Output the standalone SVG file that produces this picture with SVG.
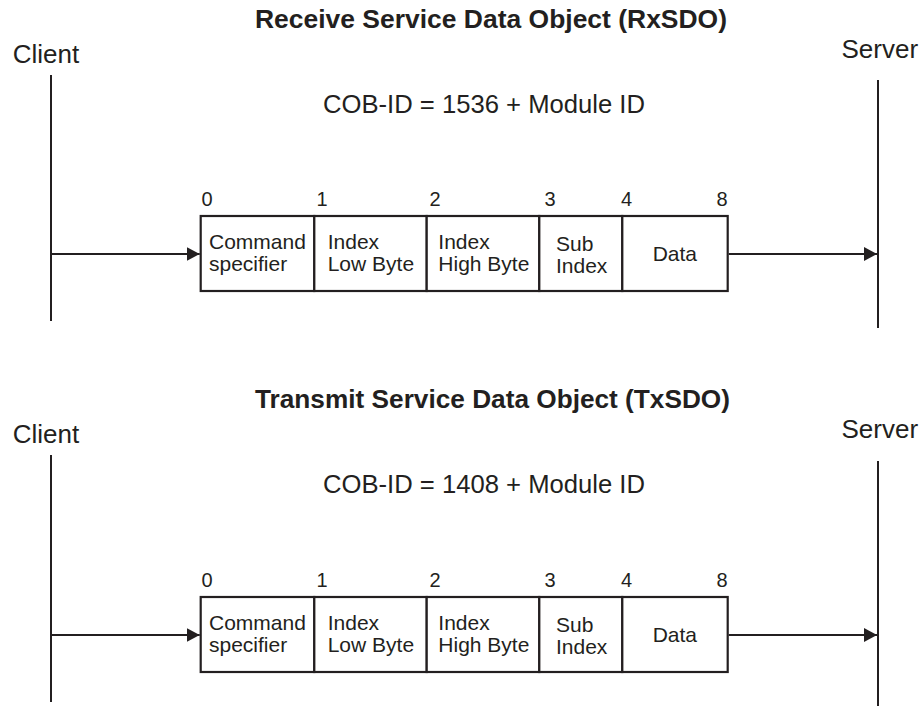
<svg xmlns="http://www.w3.org/2000/svg" width="923" height="706" viewBox="0 0 923 706">
<style>
  text { font-family: "Liberation Sans", Arial, sans-serif; fill: #231f20; }
  .title { font-size: 26.5px; font-weight: bold; }
  .party { font-size: 26px; }
  .cob { font-size: 25.6px; }
  .num { font-size: 20px; }
  .cell text { font-size: 21px; }
  .life { stroke: #231f20; stroke-width: 2; fill: none; }
  .cell rect { fill: #ffffff; stroke: #231f20; stroke-width: 2.2; }
  .conn { stroke: #231f20; stroke-width: 2; fill: none; }
</style>
<defs>
  <marker id="arrow" viewBox="0 0 13 14" refX="13" refY="7" markerWidth="13" markerHeight="14" markerUnits="userSpaceOnUse" orient="auto">
    <path d="M0,0 L13,7 L0,14 Z" fill="#231f20"/>
  </marker>
</defs>
<rect width="923" height="706" fill="#ffffff"/>

<!-- Receive section -->
<text class="title" x="255" y="28.3" textLength="472" lengthAdjust="spacingAndGlyphs">Receive Service Data Object (RxSDO)</text>
<text class="cob" x="323" y="113" textLength="322" lengthAdjust="spacingAndGlyphs">COB-ID = 1536 + Module ID</text>

<g id="rx-client">
  <text class="party" x="12.7" y="63.3">Client</text>
  <line class="life" x1="51" y1="75" x2="51" y2="321"/>
</g>
<g id="rx-server">
  <text class="party" x="841.5" y="58.3">Server</text>
  <line class="life" x1="878" y1="80" x2="878" y2="328"/>
</g>

<g id="rx-offsets">
  <text class="num" x="201.5" y="206">0</text>
  <text class="num" x="316.5" y="206">1</text>
  <text class="num" x="429.5" y="206">2</text>
  <text class="num" x="544.5" y="206">3</text>
  <text class="num" x="621" y="206">4</text>
  <text class="num" x="716.5" y="206">8</text>
</g>

<g id="rx-command" class="cell">
  <rect x="200.7" y="216" width="113.6" height="75"/>
  <text x="209" y="249">Command</text>
  <text x="209" y="271">specifier</text>
</g>
<g id="rx-index-low" class="cell">
  <rect x="314.3" y="216" width="112.4" height="75"/>
  <text x="327.7" y="249">Index</text>
  <text x="327.7" y="271">Low Byte</text>
</g>
<g id="rx-index-high" class="cell">
  <rect x="426.7" y="216" width="112.6" height="75"/>
  <text x="438.3" y="249">Index</text>
  <text x="438.3" y="271">High Byte</text>
</g>
<g id="rx-subindex" class="cell">
  <rect x="539.3" y="216" width="83" height="75"/>
  <text x="556" y="250.7">Sub</text>
  <text x="556" y="273.3">Index</text>
</g>
<g id="rx-data" class="cell">
  <rect x="622.3" y="216" width="105.4" height="75"/>
  <text x="652.7" y="261">Data</text>
</g>

<!-- Transmit section -->
<text class="title" x="255" y="408.3" textLength="475" lengthAdjust="spacingAndGlyphs">Transmit Service Data Object (TxSDO)</text>
<text class="cob" x="323" y="493" textLength="322" lengthAdjust="spacingAndGlyphs">COB-ID = 1408 + Module ID</text>

<g id="tx-client">
  <text class="party" x="12.7" y="443.3">Client</text>
  <line class="life" x1="51" y1="455" x2="51" y2="702"/>
</g>
<g id="tx-server">
  <text class="party" x="841.5" y="438.3">Server</text>
  <line class="life" x1="878" y1="461" x2="878" y2="706"/>
</g>

<g id="tx-offsets">
  <text class="num" x="201.5" y="587">0</text>
  <text class="num" x="316.5" y="587">1</text>
  <text class="num" x="429.5" y="587">2</text>
  <text class="num" x="544.5" y="587">3</text>
  <text class="num" x="621" y="587">4</text>
  <text class="num" x="716.5" y="587">8</text>
</g>

<g id="tx-command" class="cell">
  <rect x="200.7" y="597" width="113.6" height="75"/>
  <text x="209" y="630">Command</text>
  <text x="209" y="652">specifier</text>
</g>
<g id="tx-index-low" class="cell">
  <rect x="314.3" y="597" width="112.4" height="75"/>
  <text x="327.7" y="630">Index</text>
  <text x="327.7" y="652">Low Byte</text>
</g>
<g id="tx-index-high" class="cell">
  <rect x="426.7" y="597" width="112.6" height="75"/>
  <text x="438.3" y="630">Index</text>
  <text x="438.3" y="652">High Byte</text>
</g>
<g id="tx-subindex" class="cell">
  <rect x="539.3" y="597" width="83" height="75"/>
  <text x="556" y="631.7">Sub</text>
  <text x="556" y="654.3">Index</text>
</g>
<g id="tx-data" class="cell">
  <rect x="622.3" y="597" width="105.4" height="75"/>
  <text x="652.7" y="642">Data</text>
</g>

<g id="connectors">
  <line class="conn" x1="51" y1="254" x2="199.7" y2="254" marker-end="url(#arrow)"/>
  <line class="conn" x1="728.7" y1="254" x2="877" y2="254" marker-end="url(#arrow)"/>
  <line class="conn" x1="51" y1="635" x2="199.7" y2="635" marker-end="url(#arrow)"/>
  <line class="conn" x1="728.7" y1="635" x2="877" y2="635" marker-end="url(#arrow)"/>
</g>
</svg>
